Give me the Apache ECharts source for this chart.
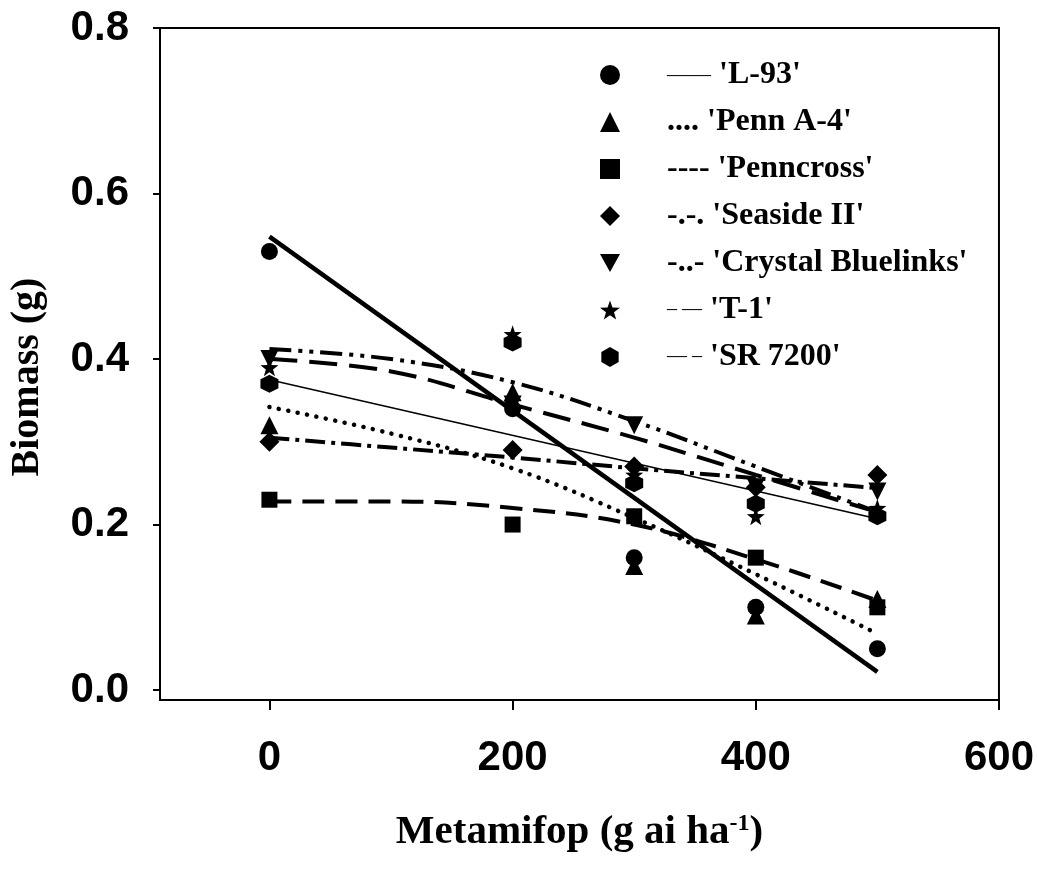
<!DOCTYPE html>
<html>
<head>
<meta charset="utf-8">
<script src="https://cdn.jsdelivr.net/npm/echarts@6/dist/echarts.min.js"></script>
<style>html,body{margin:0;padding:0;background:#fff}#c{width:1037px;height:874px}</style>
</head>
<body>
<div id="c"></div>
<script>
// ---- data ----
const doses = [0, 200, 300, 400, 500];
const L93 = [0.53, 0.34, 0.16, 0.10, 0.05];
const PennA4 = [0.32, 0.36, 0.15, 0.09, 0.11];
const Penncross = [0.23, 0.20, 0.21, 0.16, 0.10];
const Seaside = [0.30, 0.29, 0.27, 0.245, 0.26];
const Crystal = [0.40, 0.345, 0.32, 0.245, 0.24];
const T1 = [0.39, 0.43, 0.26, 0.21, 0.22];
const SR7200 = [0.37, 0.42, 0.25, 0.225, 0.21];

// fitted curves, read at these doses
const fitX = [0, 100, 200, 300, 400, 500];
const fitL93X = [0, 500];
const fitL93 = [0.548, 0.022];
const fitSRX = [0, 500];
const fitSR7200 = [0.375, 0.207];
const fitPennA4 = [0.342, 0.31, 0.268, 0.208, 0.14, 0.068];
const fitPenncross = [0.228, 0.228, 0.220, 0.200, 0.158, 0.108];
const fitSeaside = [0.305, 0.293, 0.281, 0.268, 0.256, 0.244];
const fitCrystal = [0.412, 0.40, 0.372, 0.325, 0.27, 0.215];
const fitT1 = [0.40, 0.385, 0.345, 0.305, 0.26, 0.215];

const xTicks = [0, 200, 400, 600];
const yTicks = [0, 0.2, 0.4, 0.6, 0.8];

const names = ["'L-93'", "'Penn A-4'", "'Penncross'", "'Seaside II'", "'Crystal Bluelinks'", "'T-1'", "'SR 7200'"];
const legendSamples = ['{thin|——}', '....', '----', '-.-.', '-..-', '{thin2|– —}', '{thin2|— –}'];

const SYM_STAR = 'path://M0,-1 L0.235,-0.324 L0.951,-0.309 L0.380,0.124 L0.588,0.809 L0,0.4 L-0.588,0.809 L-0.380,0.124 L-0.951,-0.309 L-0.235,-0.324 Z';
const SYM_HEX = 'path://M0,-1 L0.866,-0.5 L0.866,0.5 L0,1 L-0.866,0.5 L-0.866,-0.5 Z';
const SYM_INV = 'path://M0,0 L2,0 L1,1.8 Z';

const pts = (xs, ys) => xs.map((x, i) => [x, ys[i]]);

const scatterDefs = [
  [L93, 'circle', 17],
  [PennA4, 'triangle', 18],
  [Penncross, 'rect', 16],
  [Seaside, 'diamond', 20],
  [Crystal, SYM_INV, 18],
  [T1, SYM_STAR, 18],
  [SR7200, SYM_HEX, 18]
];

const series = [];
const fitDefs = [
  [fitL93X, fitL93, 'solid', 4.5, 'butt'],
  [fitX, fitPennA4, [0.1, 9.5], 4.5, 'round'],
  [fitX, fitPenncross, [22, 11], 4, 'butt'],
  [fitX, fitSeaside, [20, 6, 4, 6], 4, 'butt'],
  [fitX, fitCrystal, [22, 7, 4, 7, 4, 7], 4, 'butt'],
  [fitX, fitT1, [28, 12], 4, 'butt'],
  [fitSRX, fitSR7200, 'solid', 1.5, 'butt']
];
fitDefs.forEach((d, i) => {
  series.push({
    name: 'fit' + i, type: 'line', data: pts(d[0], d[1]), symbol: 'none',
    smooth: d[0].length > 2 ? 0.4 : false, z: 2, silent: true,
    lineStyle: { color: '#000', width: d[3], type: d[2], cap: d[4] }
  });
});
scatterDefs.forEach((d, i) => {
  series.push({
    name: names[i], type: 'scatter', data: pts(doses, d[0]), symbol: d[1], symbolSize: d[2],
    itemStyle: { color: '#000', opacity: 1 }, z: 5
  });
});

const chart = echarts.init(document.getElementById('c'), null, { renderer: 'canvas' });
chart.setOption({
  animation: false,
  backgroundColor: '#fff',
  grid: { left: 159, top: 28, right: 37, bottom: 174, show: true, borderColor: '#000', borderWidth: 2, backgroundColor: 'transparent' },
  legend: {
    orient: 'vertical', left: 595, top: 54, itemWidth: 20, itemHeight: 20, itemGap: 15,
    data: names, selectedMode: false, symbolKeepAspect: true,
    itemStyle: { opacity: 1, color: '#000' },
    formatter: n => legendSamples[names.indexOf(n)] + ' ' + n,
    textStyle: {
      fontFamily: 'Liberation Serif', fontWeight: 'bold', fontSize: 32, color: '#000', lineHeight: 32,
      padding: [0, 0, 0, 42],
      rich: {
        thin: { fontFamily: 'Liberation Serif', fontWeight: 'normal', fontSize: 22, color: '#000' },
        thin2: { fontFamily: 'Liberation Serif', fontWeight: 'normal', fontSize: 20, color: '#000' }
      }
    }
  },
  xAxis: {
    type: 'value', min: -90, max: 600,
    name: 'Metamifop (g ai ha{sup|-1})', nameLocation: 'middle', nameGap: 112,
    nameTextStyle: {
      fontFamily: 'Liberation Serif', fontWeight: 'bold', fontSize: 41, color: '#000',
      rich: { sup: { fontFamily: 'Liberation Serif', fontWeight: 'bold', fontSize: 24, color: '#000', verticalAlign: 'top', padding: [0, 0, 10, 0] } }
    },
    axisLine: { onZero: false, lineStyle: { color: '#000', width: 2 } },
    axisTick: { customValues: xTicks, length: 10, lineStyle: { color: '#000', width: 2 } },
    axisLabel: { customValues: xTicks, margin: 37, fontFamily: 'Liberation Sans', fontWeight: 'bold', fontSize: 42, color: '#000' },
    splitLine: { show: false }
  },
  yAxis: {
    type: 'value', min: -0.012, max: 0.8,
    name: 'Biomass (g)', nameLocation: 'middle', nameGap: 112,
    nameTextStyle: { fontFamily: 'Liberation Serif', fontWeight: 'bold', fontSize: 40, color: '#000', padding: [0, 26, 0, 0] },
    axisLine: { onZero: false, lineStyle: { color: '#000', width: 2 } },
    axisTick: { customValues: yTicks, length: 7, lineStyle: { color: '#000', width: 2 } },
    axisLabel: { customValues: yTicks, margin: 31, formatter: v => v.toFixed(1), fontFamily: 'Liberation Sans', fontWeight: 'bold', fontSize: 42, color: '#000' },
    splitLine: { show: false }
  },
  series: series
});
</script>
</body>
</html>
